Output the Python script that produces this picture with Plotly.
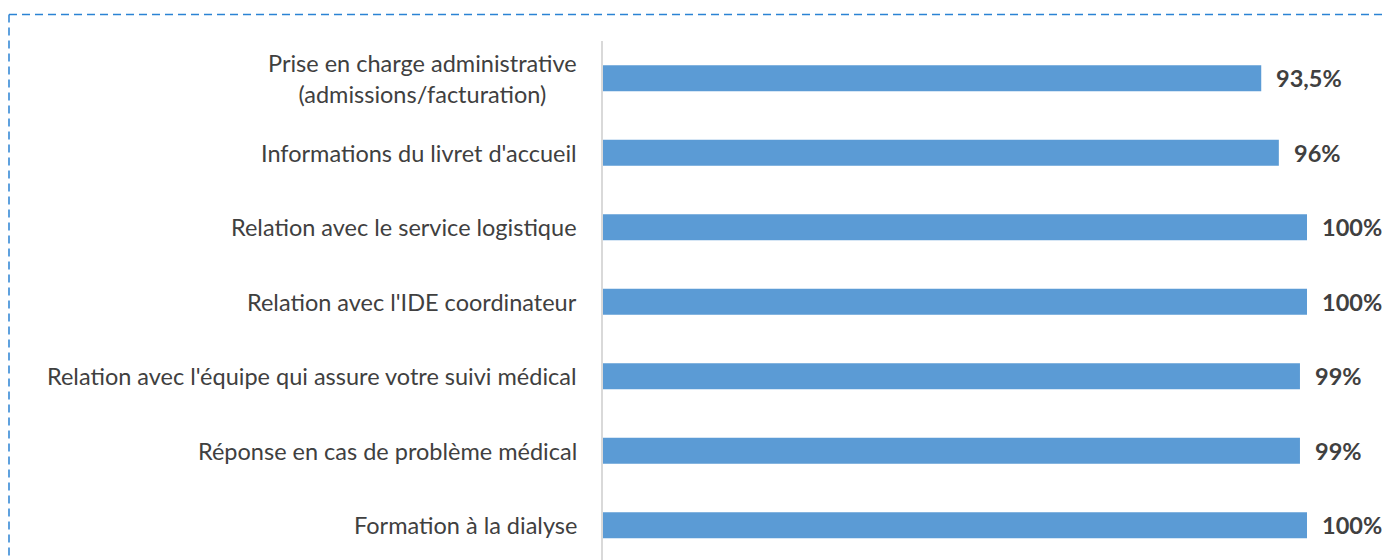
import plotly.graph_objects as go

categories = [
    "Prise en charge administrative\n(admissions/facturation)",
    "Informations du livret d'accueil",
    "Relation avec le service logistique",
    "Relation avec l'IDE coordinateur",
    "Relation avec l'équipe qui assure votre suivi médical",
    "Réponse en cas de problème médical",
    "Formation à la dialyse",
]
values = [93.5, 96, 100, 100, 99, 99, 100]
value_labels = ["93,5%", "96%", "100%", "100%", "99%", "99%", "100%"]

W, H = 1383, 560
L, R, T, B = 603, 76, 41, 0
PW, PH = W - L - R, H - T - B
FONT = "Lato"
TXT = "#404040"

fig = go.Figure()
fig.add_trace(go.Bar(
    y=list(range(len(categories))), x=values, orientation="h",
    marker=dict(color="#5B9BD5", line=dict(width=0)),
    hoverinfo="skip",
))

annotations = []
for i, (cat, v, lab) in enumerate(zip(categories, values, value_labels)):
    annotations.append(dict(
        x=0, xref="paper", y=i, yref="y", text=cat.replace("\n", "<br>"), showarrow=False,
        xanchor="right", align="center", xshift=-24,
        font=dict(family=FONT, size=23.5, color=TXT),
    ))
    annotations.append(dict(
        x=v, xref="x", y=i, yref="y", text="<b>" + lab + "</b>", showarrow=False,
        xanchor="left", xshift=13,
        font=dict(family=FONT, size=23.5, color=TXT),
    ))

def px(xp):
    return (xp - L) / PW

def py(yp):
    return (H - B - yp) / PH

border = dict(color="#2B83D4", width=1.5, dash="8px,5px")
shapes = [
    dict(type="line", xref="paper", yref="paper", x0=px(9), x1=px(1390), y0=py(14.5), y1=py(14.5), line=border),
    dict(type="line", xref="paper", yref="paper", x0=px(9), x1=px(9), y0=py(14.5), y1=py(570), line=border),
]

fig.update_layout(
    width=W, height=H,
    margin=dict(l=L, r=R, t=T, b=B, pad=0),
    paper_bgcolor="white", plot_bgcolor="white",
    bargap=0.65, showlegend=False,
    xaxis=dict(range=[0, 100], visible=False, fixedrange=True),
    yaxis=dict(range=[6.466, -0.5], showticklabels=False, showgrid=False, zeroline=False,
               showline=True, linecolor="#D9D9D9", linewidth=2, ticks="", fixedrange=True),
    annotations=annotations, shapes=shapes,
)
fig.write_html("out.html", config={"displayModeBar": False, "staticPlot": True},
               post_script="document.body.style.margin='0';document.body.style.overflow='hidden';")
